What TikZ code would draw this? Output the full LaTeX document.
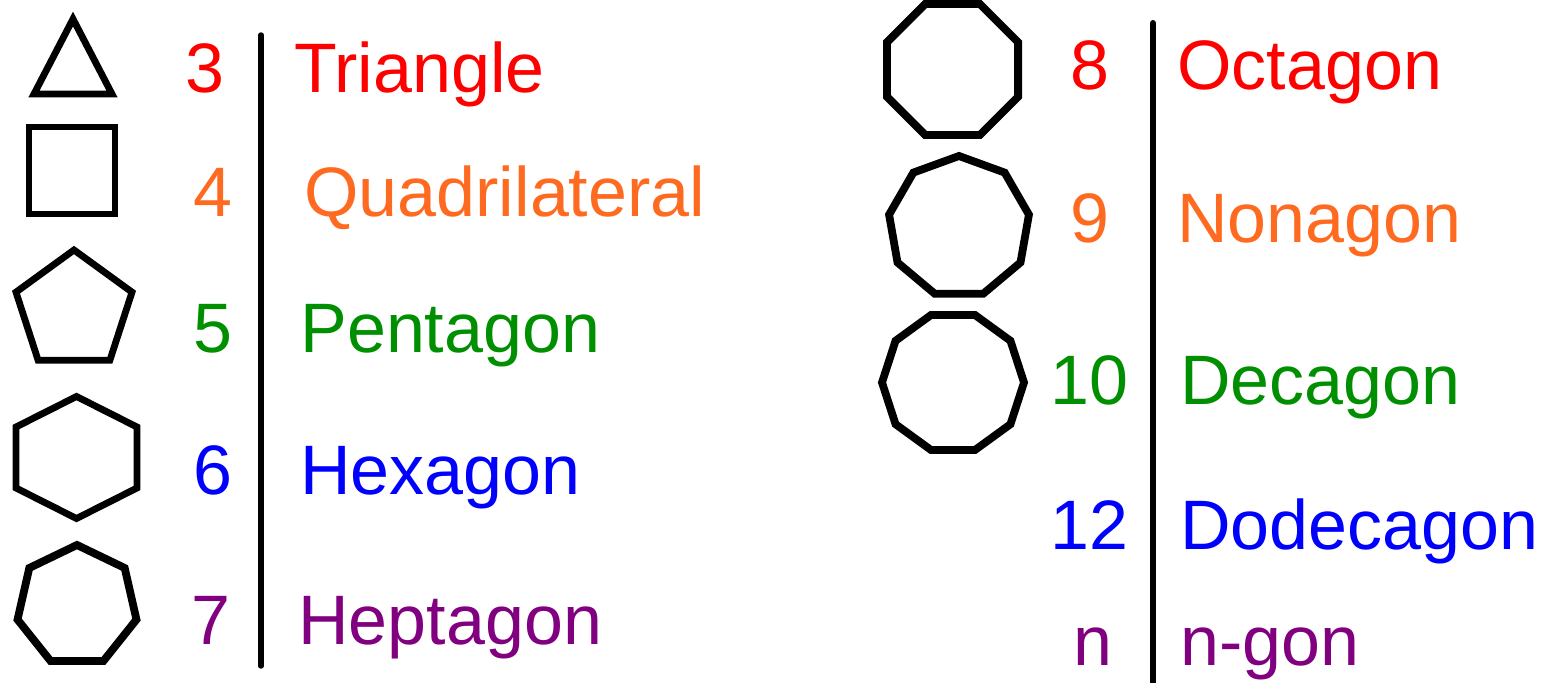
\documentclass[tikz,border=0pt]{standalone}
\usepackage{fontspec}
\setmainfont{Liberation Sans}
\definecolor{nred}{HTML}{FF0000}
\definecolor{norange}{HTML}{FF6A21}
\definecolor{ngreen}{HTML}{008F00}
\definecolor{nblue}{HTML}{0000FF}
\definecolor{npurple}{HTML}{800080}

\begin{document}
\begin{tikzpicture}[x=0.5pt,y=-0.5pt,line join=miter,
  poly/.style={line width=3.4pt},
  bigpoly/.style={line width=3.9pt},
  bar/.style={line width=2.7pt,line cap=round},
  num/.style={anchor=base,inner sep=0pt,font=\fontsize{35}{42}\selectfont},
  word/.style={anchor=base west,inner sep=0pt,font=\fontsize{35}{42}\selectfont}]
\useasboundingbox (0,0) rectangle (1542,683);
\coordinate (tri) at (73,19);
\coordinate (quad) at (72,170.5);
\coordinate (pent) at (74,311);
\coordinate (hex) at (76.5,457.5);
\coordinate (hept) at (77,606);
\coordinate (oct) at (952.5,69.5);
\coordinate (non) at (959,227);
\coordinate (dec) at (953,382.5);
\coordinate (l1) at (261,35);
\coordinate (l2) at (261,666);
\coordinate (r1) at (1153,23);
\coordinate (r2) at (1153,695);
% left column shapes
\draw[poly] (tri) -- (34,94) -- (112,94) -- cycle;
\draw[poly] (quad) +(-43,-43.5) rectangle +(43,43.5);
\draw[poly] (pent) +(-90:61) \foreach \a in {-18,54,126,198} {-- +(\a:61)} -- cycle;
\draw[poly] (hex) +(0,-61) -- +(60.5,-30.5) -- +(60.5,30.5) -- +(0,61) -- +(-60.5,30.5) -- +(-60.5,-30.5) -- cycle;
\draw[bigpoly] (hept) +(-90:61) \foreach \k in {1,...,6} {-- +(-90+\k*360/7:61)} -- cycle;
% right column shapes
\draw[bigpoly] (oct) +(22.5:71) \foreach \k in {1,...,7} {-- +(22.5+\k*45:71)} -- cycle;
\draw[bigpoly] (non) +(-90:71) \foreach \k in {1,...,8} {-- +(-90+\k*40:71)} -- cycle;
\draw[bigpoly] (dec) +(0:71) \foreach \k in {1,...,9} {-- +(\k*36:71)} -- cycle;
\draw[bar] (l1) -- (l2);
\draw[bar,line width=3pt] (r1) -- (r2);
% numbers and names
\node[num,text=nred] (n3) at (205,93) {3};
\node[word,text=nred] (w3) at (294,93) {Triangle};
\node[num,text=norange] (n4) at (212.5,217) {4};
\node[word,text=norange] (w4) at (304,217) {Quadrilateral};
\node[num,text=ngreen] (n5) at (212.5,353) {5};
\node[word,text=ngreen] (w5) at (300,353) {Pentagon};
\node[num,text=nblue] (n6) at (212.5,495) {6};
\node[word,text=nblue] (w6) at (300,495) {Hexagon};
\node[num,text=npurple] (n7) at (210.5,645) {7};
\node[word,text=npurple] (w7) at (298,645) {Heptagon};
\node[num,text=nred] (n8) at (1089.5,90) {8};
\node[word,text=nred] (w8) at (1177,90) {Octagon};
\node[num,text=norange] (n9) at (1089.5,243) {9};
\node[word,text=norange] (w9) at (1177,243) {Nonagon};
\node[num,text=ngreen] (n10) at (1089,405) {10};
\node[word,text=ngreen] (w10) at (1180,405) {Decagon};
\node[num,text=nblue] (n12) at (1089,550) {12};
\node[word,text=nblue] (w12) at (1180,550) {Dodecagon};
\node[num,text=npurple] (nn) at (1093,665) {n};
\node[word,text=npurple] (wn) at (1180,665) {n-gon};
\end{tikzpicture}
\end{document}
